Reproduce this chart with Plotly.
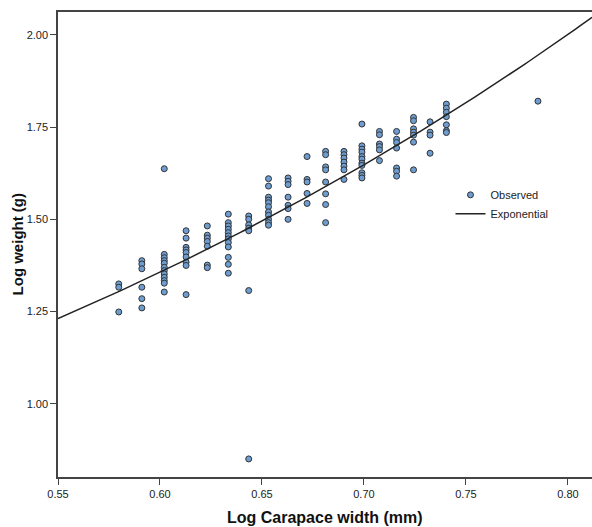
import numpy as np
import plotly.graph_objects as go

# Observed data: log carapace width (x) columns and log weight values (y)
col_x = [0.5798, 0.5911, 0.6021, 0.6128, 0.6232, 0.6335, 0.6435, 0.6532, 0.6628,
         0.6721, 0.6812, 0.6902, 0.6990, 0.7076, 0.7160, 0.7243, 0.7324, 0.7404, 0.7853]
col_y = [
    [1.325, 1.316, 1.249],
    [1.388, 1.379, 1.366, 1.316, 1.285, 1.260],
    [1.637, 1.405, 1.396, 1.388, 1.381, 1.370, 1.361, 1.352, 1.343, 1.334, 1.327, 1.303],
    [1.469, 1.449, 1.424, 1.417, 1.410, 1.398, 1.384, 1.375, 1.296],
    [1.482, 1.457, 1.449, 1.440, 1.427, 1.376, 1.369],
    [1.514, 1.491, 1.482, 1.473, 1.464, 1.455, 1.447, 1.437, 1.425, 1.397, 1.378, 1.354],
    [1.509, 1.500, 1.485, 1.476, 1.469, 1.307, 0.851],
    [1.610, 1.590, 1.560, 1.552, 1.545, 1.534, 1.520, 1.511, 1.500, 1.491, 1.484],
    [1.612, 1.603, 1.594, 1.560, 1.538, 1.529, 1.500],
    [1.670, 1.608, 1.601, 1.570, 1.543],
    [1.684, 1.675, 1.642, 1.634, 1.601, 1.569, 1.540, 1.491],
    [1.684, 1.675, 1.666, 1.655, 1.644, 1.634, 1.608],
    [1.758, 1.699, 1.690, 1.682, 1.670, 1.663, 1.652, 1.646, 1.626, 1.619, 1.612],
    [1.738, 1.729, 1.704, 1.697, 1.688, 1.659],
    [1.738, 1.717, 1.708, 1.693, 1.639, 1.630, 1.617],
    [1.776, 1.767, 1.745, 1.736, 1.728, 1.709, 1.634],
    [1.764, 1.736, 1.728, 1.679],
    [1.812, 1.801, 1.790, 1.778, 1.756, 1.740, 1.735],
    [1.820],
]

# Exponential fit: y = b0 * exp(b1 * x)
fit_b0 = 0.4228
fit_b1 = 1.943

x_ticks = [0.55, 0.60, 0.65, 0.70, 0.75, 0.80]
y_ticks = [1.00, 1.25, 1.50, 1.75, 2.00]
x_range = [0.55, 0.8118]
y_range = [0.802, 2.0615]

xs, ys = [], []
for cx, vals in zip(col_x, col_y):
    for v in vals:
        xs.append(cx)
        ys.append(v)

fx = np.linspace(x_range[0], x_range[1], 200)
fy = fit_b0 * np.exp(fit_b1 * fx)

fig = go.Figure()
fig.add_trace(go.Scatter(
    x=xs, y=ys, mode="markers", name="Observed",
    marker=dict(size=6, color="#6d9dd1", line=dict(color="#333333", width=1)),
))
fig.add_trace(go.Scatter(
    x=fx, y=fy, mode="lines", name="Exponential",
    line=dict(color="#222222", width=1.5),
))

FONT = "Liberation Sans, Arial, sans-serif"
axis_font = dict(family=FONT, size=11, color="#222222")
fig.update_layout(
    width=592, height=527,
    margin=dict(l=58, r=0, t=12, b=50),
    plot_bgcolor="white", paper_bgcolor="white",
    font=axis_font,
    showlegend=True,
    legend=dict(x=0.735, y=0.638, xanchor="left", yanchor="top",
                bgcolor="rgba(0,0,0,0)", font=dict(size=11, color="#222222"),
                itemwidth=30, tracegroupgap=0),
    xaxis=dict(range=x_range, tickvals=x_ticks, tickformat=".2f", automargin=False,
               showgrid=False, zeroline=False, showline=True, linecolor="#444444",
               linewidth=1.5, mirror=True, ticks="outside", ticklen=6, tickcolor="#444444",
               tickfont=axis_font),
    yaxis=dict(range=y_range, tickvals=y_ticks, tickformat=".2f", automargin=False,
               showgrid=False, zeroline=False, showline=True, linecolor="#444444",
               linewidth=1.5, ticks="outside", ticklen=6, tickcolor="#444444",
               tickfont=axis_font),
    annotations=[
        dict(text="<b>Log Carapace width (mm)</b>", xref="paper", yref="paper",
             x=0.5, y=-0.087, xanchor="center", yanchor="middle",
             showarrow=False, font=dict(family=FONT, size=16, color="#111111")),
        dict(text="<b>Log weight (g)</b>", xref="paper", yref="paper",
             x=-0.075, y=0.5, xanchor="center", yanchor="middle", textangle=-90,
             showarrow=False, font=dict(family=FONT, size=15, color="#111111")),
    ],
)

fig.write_html(
    "out.html",
    config={"displayModeBar": False},
    post_script="document.body.style.margin='0';document.body.style.overflow='hidden';"
                "document.documentElement.style.overflow='hidden';",
)
